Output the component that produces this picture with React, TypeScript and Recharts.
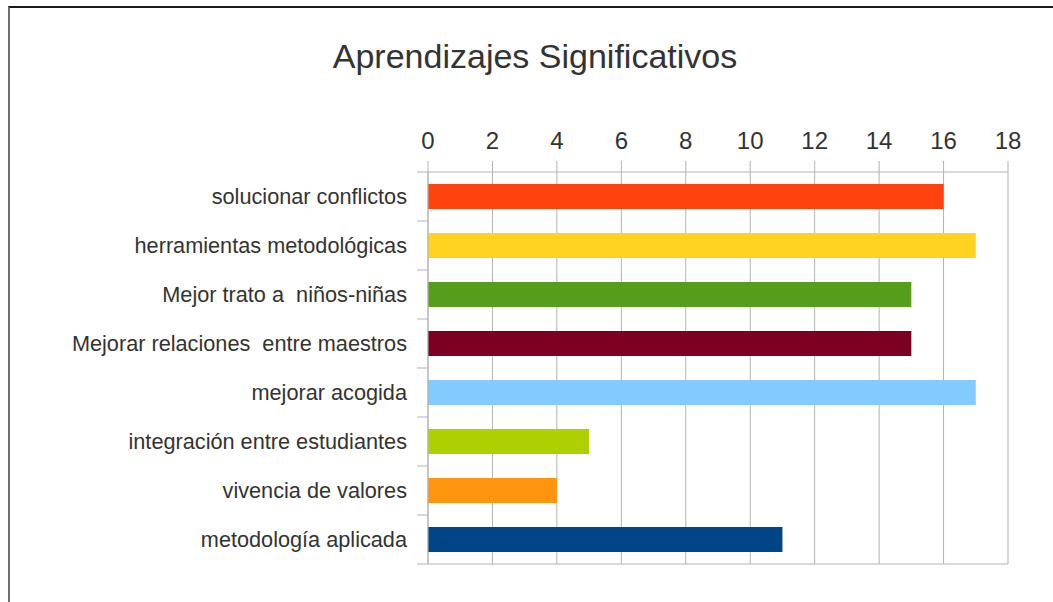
import { BarChart, Bar, XAxis, YAxis, CartesianGrid, Cell } from "recharts";

const categories = [
  "solucionar conflictos",
  "herramientas metodológicas",
  "Mejor trato a  niños-niñas",
  "Mejorar relaciones  entre maestros",
  "mejorar acogida",
  "integración entre estudiantes",
  "vivencia de valores",
  "metodología aplicada",
];
const values = [16, 17, 15, 15, 17, 5, 4, 11];
const barColors = ["#ff420e", "#ffd320", "#579d1c", "#7e0021", "#83caff", "#aecf00", "#ff950e", "#004586"];
const xTicks = [0, 2, 4, 6, 8, 10, 12, 14, 16, 18];

const data = categories.map((name, i) => ({ name, value: values[i] }));

const W = 1053;
const H = 602;
const PLOT_TOP = 172;
const PLOT_BOTTOM = 564;
const BAND = (PLOT_BOTTOM - PLOT_TOP) / categories.length;
const FONT = "'Liberation Sans', Arial, sans-serif";
const GRID = "#b3b3b3";

function CategoryTick(props: any) {
  const { x, y, payload, index } = props;
  return (
    <g>
      <line x1={x - 11} x2={x} y1={y - BAND / 2} y2={y - BAND / 2} stroke={GRID} />
      {index === categories.length - 1 && (
        <line x1={x - 11} x2={x} y1={y + BAND / 2} y2={y + BAND / 2} stroke={GRID} />
      )}
      <text
        x={x - 21}
        y={y}
        dy={7}
        textAnchor="end"
        fill="#333"
        fontSize={21.7}
        fontFamily={FONT}
        style={{ whiteSpace: "pre" }}
      >
        {payload.value}
      </text>
    </g>
  );
}

export default function App() {
  return (
    <div style={{ position: "absolute", left: 0, top: 0, width: W, height: H, background: "#fff" }}>
      <div
        style={{
          position: "absolute",
          left: 8,
          top: 6,
          width: W - 8,
          height: H - 6,
          borderTop: "2px solid #1a1a1a",
          borderLeft: "2px solid #707070",
          boxSizing: "border-box",
        }}
      />
      <div
        style={{
          position: "absolute",
          left: 0,
          width: 1070,
          top: 39,
          textAlign: "center",
          fontFamily: FONT,
          fontSize: 34,
          lineHeight: "34px",
          color: "#333",
          whiteSpace: "pre",
        }}
      >
        Aprendizajes Significativos
      </div>
      <div style={{ position: "absolute", left: 0, top: 0 }}>
        <BarChart
          width={W}
          height={H}
          data={data}
          layout="vertical"
          margin={{ top: PLOT_TOP - 40, right: W - 1008, bottom: H - PLOT_BOTTOM, left: 0 }}
        >
          <CartesianGrid
            stroke={GRID}
            horizontalCoordinatesGenerator={({ offset }: any) => [offset.top + offset.height]}
          />
          <XAxis
            type="number"
            orientation="top"
            domain={[0, 18]}
            ticks={xTicks}
            height={40}
            tickSize={11}
            tickMargin={12}
            interval={0}
            stroke={GRID}
            tick={{ fill: "#333", fontSize: 24, fontFamily: FONT }}
          />
          <YAxis
            type="category"
            dataKey="name"
            width={428}
            tickSize={0}
            tickMargin={0}
            tickLine={false}
            interval={0}
            stroke={GRID}
            tick={<CategoryTick />}
          />
          <Bar dataKey="value" barSize={25} isAnimationActive={false}>
            {data.map((d, i) => (
              <Cell key={d.name} fill={barColors[i]} />
            ))}
          </Bar>
        </BarChart>
      </div>
    </div>
  );
}
